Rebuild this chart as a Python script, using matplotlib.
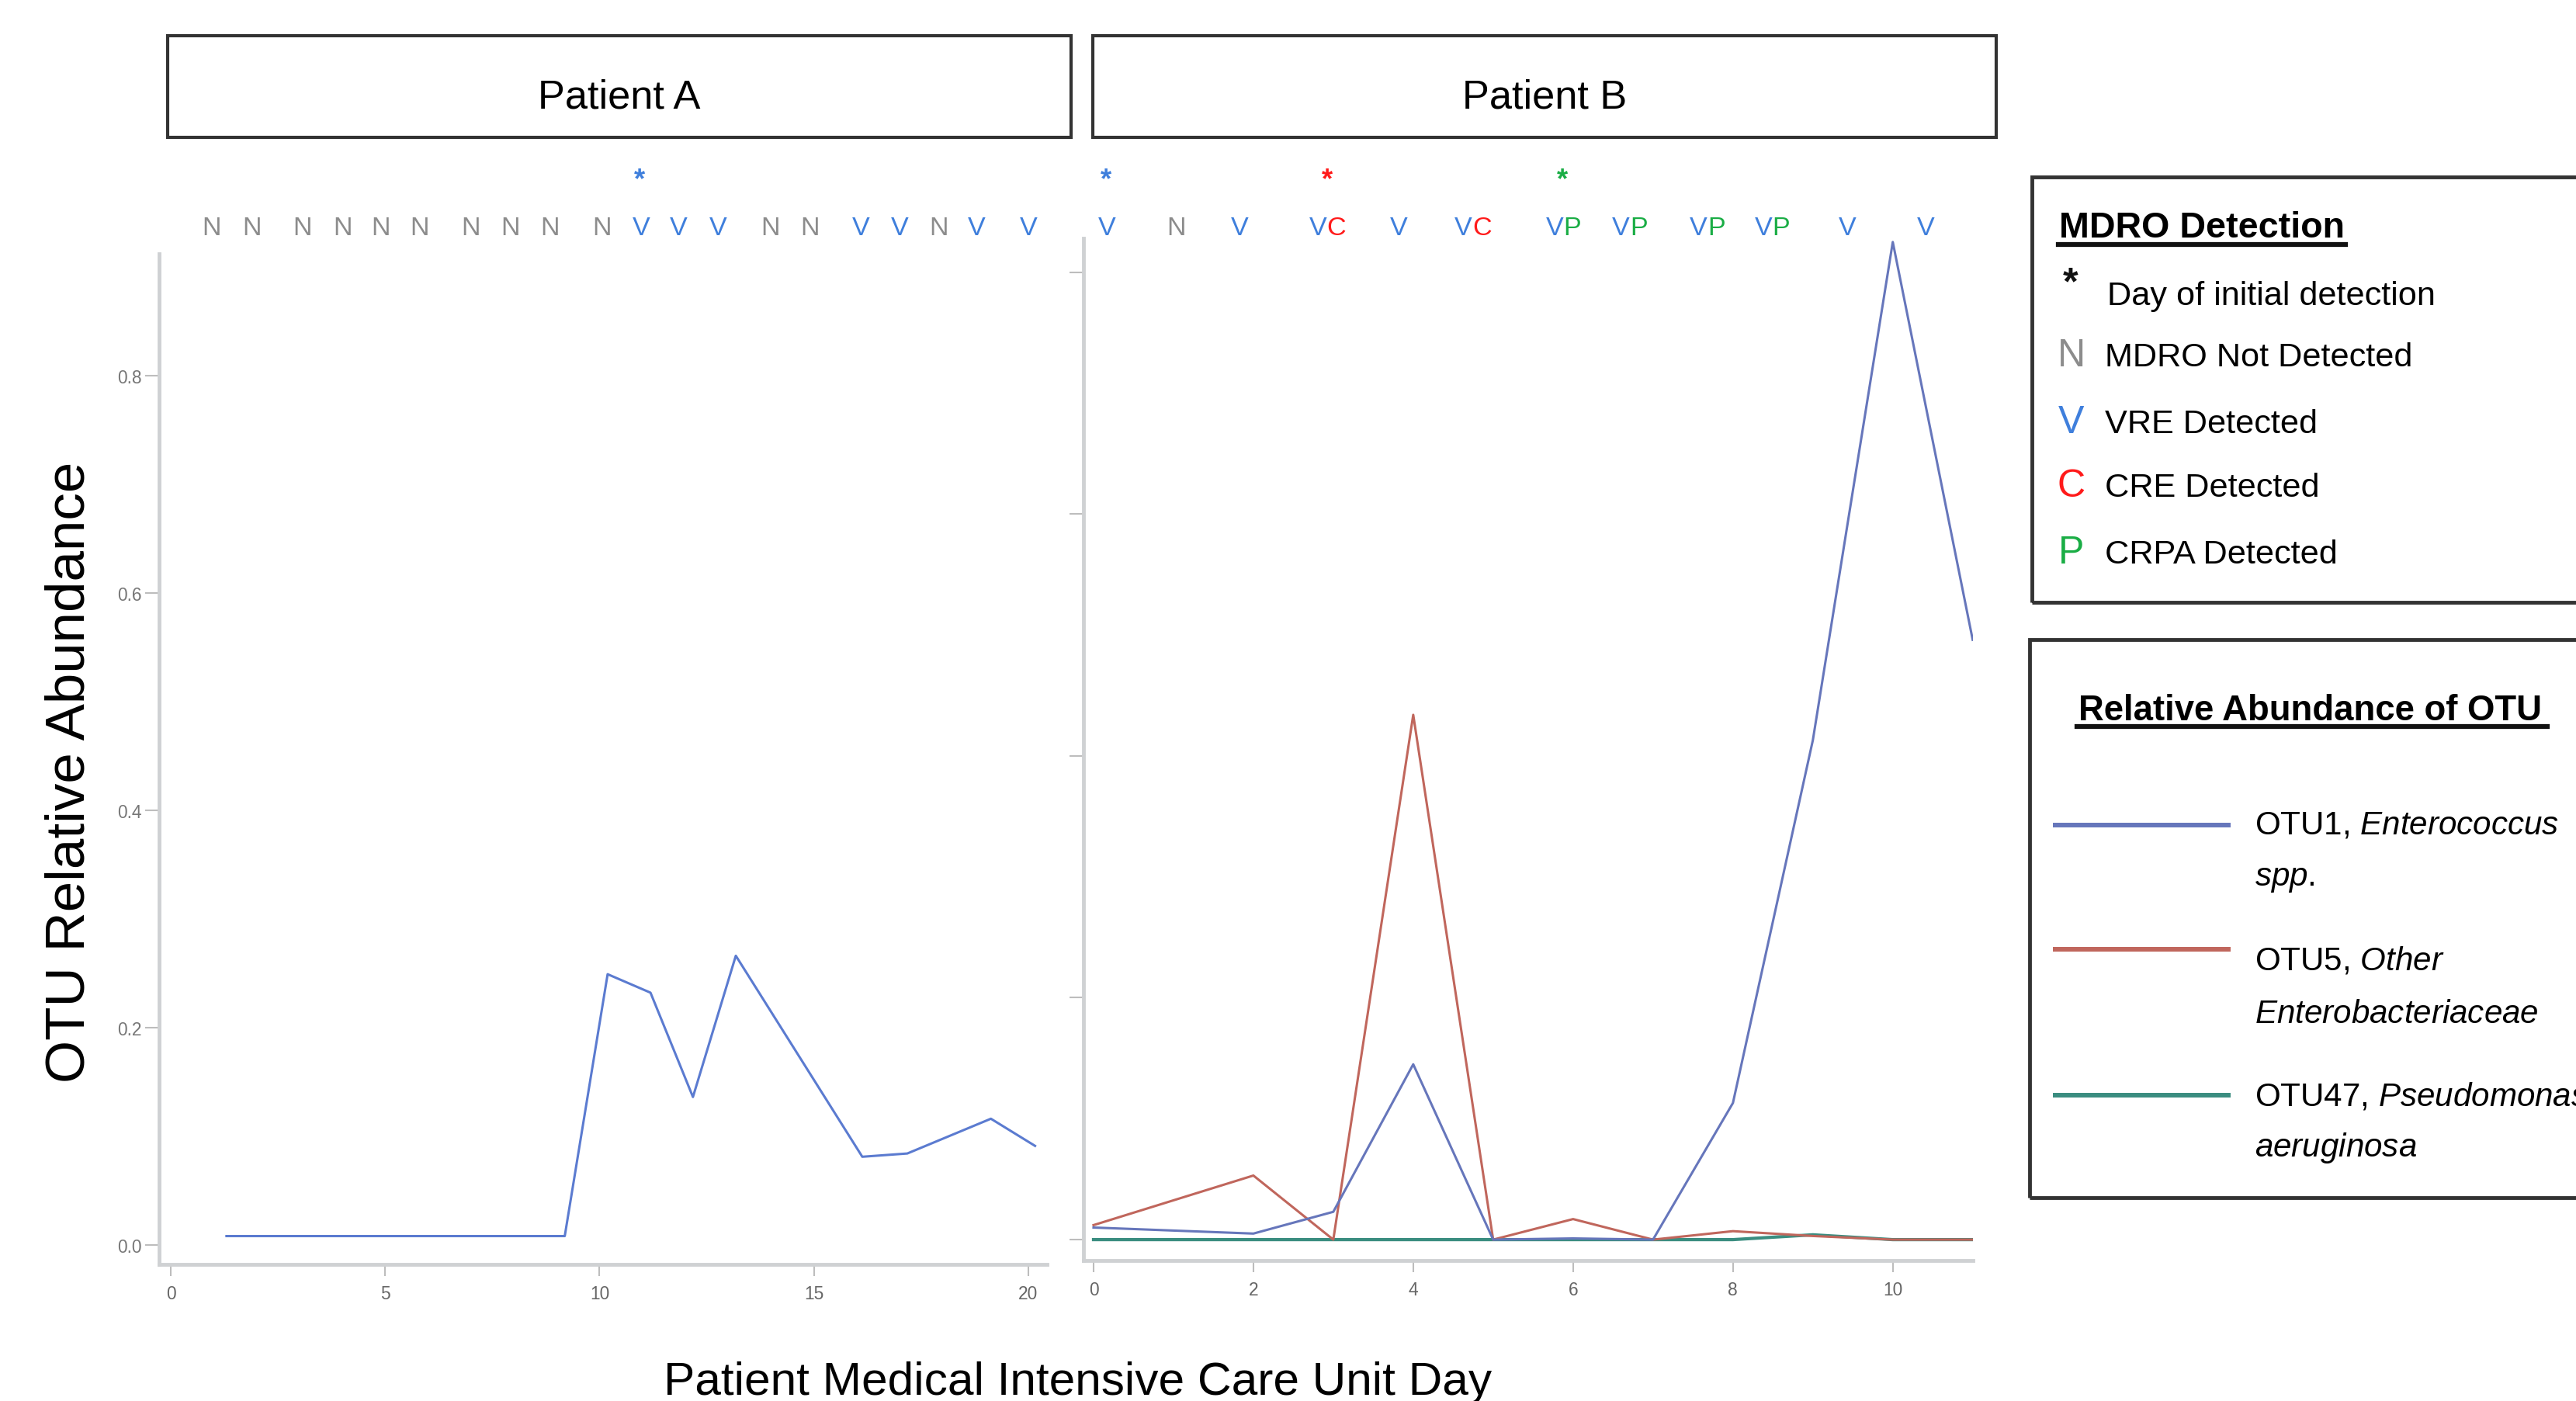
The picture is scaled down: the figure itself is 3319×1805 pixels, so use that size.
import matplotlib
matplotlib.use('Agg')
import matplotlib.pyplot as plt
from matplotlib import font_manager, transforms
from matplotlib.patches import Rectangle
from matplotlib.lines import Line2D

# condensed look of the original; fall back to regular Liberation Sans, scaled down
installed = {f.name for f in font_manager.fontManager.ttflist}
if 'Liberation Sans Narrow' in installed:
    NARROW, K = 'Liberation Sans Narrow', 1.0
else:
    NARROW, K = 'Liberation Sans', 0.82

plt.rcParams['font.family'] = [NARROW, 'DejaVu Sans']
plt.rcParams['mathtext.fontset'] = 'custom'
plt.rcParams['mathtext.rm'] = NARROW
plt.rcParams['mathtext.it'] = NARROW + ':italic'

# ---- data ----
# Patient A, OTU1 Enterococcus
a_days = [1.3, 9.19, 10.19, 11.19, 12.18, 13.18, 16.13, 17.18, 19.13, 20.16]
a_otu1 = [0.008, 0.008, 0.249, 0.232, 0.136, 0.266, 0.081, 0.084, 0.116, 0.091]

# Patient B
b_days = [0, 2, 3, 4, 5, 6, 7, 8, 9, 10, 11]
b_otu1 = [0.010, 0.005, 0.023, 0.145, 0.0, 0.001, 0.0, 0.113, 0.413, 0.825, 0.496]
b_otu5 = [0.012, 0.053, 0.0, 0.434, 0.0, 0.017, 0.0, 0.007, 0.003, 0.0, 0.0]
b_otu47 = [0.0, 0.0, 0.0, 0.0, 0.0, 0.0, 0.0, 0.0, 0.004, 0.0, 0.0]

# MDRO detection letters above each panel
a_mark_days = [0.95, 1.89, 3.07, 4.01, 4.90, 5.81, 7.0, 7.92, 8.84, 10.05,
               10.97, 11.85, 12.77, 13.99, 14.9, 16.1, 17.0, 17.92, 18.8, 20.0]
a_marks = ['N'] * 10 + ['V', 'V', 'V', 'N', 'N', 'V', 'V', 'N', 'V', 'V']
a_star_days = [10.93]
a_star_codes = ['V']

b_mark_days = [0.17, 1.03, 1.83, 2.92, 3.82, 4.74, 5.88, 6.71, 7.68, 8.49, 9.43, 10.41]
b_marks = ['V', 'N', 'V', 'VC', 'V', 'VC', 'VP', 'VP', 'VP', 'VP', 'V', 'V']
b_star_days = [0.16, 2.92, 5.87]
b_star_codes = ['V', 'C', 'P']

y_ticks = [0.0, 0.2, 0.4, 0.6, 0.8]
a_x_ticks = [0, 5, 10, 15, 20]
b_x_ticks = [0, 2, 4, 6, 8, 10]

mdro_codes = ['N', 'V', 'C', 'P']
mdro_labels = ['MDRO Not Detected', 'VRE Detected', 'CRE Detected', 'CRPA Detected']
otu_labels = [('OTU1, $\\mathit{Enterococcus}$', '$\\mathit{spp.}$'),
              ('OTU5, $\\mathit{Other}$', '$\\mathit{Enterobacteriaceae}$'),
              ('OTU47, $\\mathit{Pseudomonas}$', '$\\mathit{aeruginosa}$')]

MDRO_COLORS = {'N': '#8c8c8c', 'V': '#3f7fdc', 'C': '#ff1a1a', 'P': '#1aad45'}
C_OTU1 = '#6676bb'
C_OTU1_A = '#5b7bd0'
C_OTU5 = '#c0665c'
C_OTU47 = '#3a8d80'
SPINE = '#cfd1d3'
TICKC = '#bdbdbd'

fig = plt.figure(figsize=(33.19, 18.06), dpi=100)
fig.patch.set_facecolor('white')

ax_a = fig.add_axes([0.0618, 0.0975, 0.3445, 0.7209])
ax_b = fig.add_axes([0.4206, 0.1002, 0.3452, 0.7292])

ax_a.plot(a_days, a_otu1, color=C_OTU1_A, lw=2.2)
ax_b.plot(b_days, b_otu47, color=C_OTU47, lw=3.0)
ax_b.plot(b_days, b_otu5, color=C_OTU5, lw=2.2)
ax_b.plot(b_days, b_otu1, color=C_OTU1, lw=2.2)

ax_a.set_xlim(-0.27, 20.43)
ax_a.set_ylim(-0.018, 0.912)
ax_b.set_xlim(-0.126, 11.0)
ax_b.set_ylim(-0.0173, 0.828)

for ax, xt in ((ax_a, a_x_ticks), (ax_b, b_x_ticks)):
    for s in ('top', 'right'):
        ax.spines[s].set_visible(False)
    for s in ('left', 'bottom'):
        ax.spines[s].set_color(SPINE)
        ax.spines[s].set_linewidth(3.5)
    ax.set_xticks(xt)
    ax.set_yticks(y_ticks)
    ax.tick_params(axis='x', length=11, width=1.5, color=TICKC, pad=8,
                   labelsize=20 * K, labelcolor='#666666')
    ax.tick_params(axis='y', length=13, width=1.5, color=TICKC, pad=3,
                   labelsize=20 * K, labelcolor='#777777')

ax_a.set_yticklabels(['%.1f' % v for v in y_ticks])
ax_b.set_yticklabels([])

# letters above panels
MARK_Y = 0.8321
STAR_Y = 0.8776


def draw_marks(ax, days, codes, star_days, star_codes):
    tr = transforms.blended_transform_factory(ax.transData, fig.transFigure)
    fs = 30 * K
    for d, code in zip(days, codes):
        if len(code) == 1:
            ax.text(d, MARK_Y, code, transform=tr, ha='center', va='baseline',
                    color=MDRO_COLORS[code], fontsize=fs)
        else:
            ax.text(d, MARK_Y, code[0], transform=tr, ha='right', va='baseline',
                    color=MDRO_COLORS[code[0]], fontsize=fs)
            ax.text(d, MARK_Y, code[1], transform=tr, ha='left', va='baseline',
                    color=MDRO_COLORS[code[1]], fontsize=fs)
    sfs = 32 * K
    base = STAR_Y - 0.58 * sfs * 100 / 72 / 1806
    for d, code in zip(star_days, star_codes):
        ax.text(d, base, '*', transform=tr, ha='center', va='baseline',
                color=MDRO_COLORS[code], fontsize=sfs, fontweight='bold')


draw_marks(ax_a, a_mark_days, a_marks, a_star_days, a_star_codes)
draw_marks(ax_b, b_mark_days, b_marks, b_star_days, b_star_codes)

# facet strips
for x0, x1, name in ((0.0651, 0.4158, 'Patient A'), (0.4241, 0.7749, 'Patient B')):
    fig.add_artist(Rectangle((x0, 0.9015), x1 - x0, 0.9742 - 0.9015, transform=fig.transFigure,
                             fill=False, ec='#333333', lw=3))
    fig.text((x0 + x1) / 2, 0.9225, name, ha='center', va='baseline', fontsize=46 * K)

# axis titles
fig.text(0.4183, 0.005, 'Patient Medical Intensive Care Unit Day', ha='center', va='baseline',
         fontsize=53 * K)
fig.text(0.0274, 0.449, 'OTU Relative Abundance', rotation=90, ha='center', va='center',
         fontsize=51, family='Liberation Sans')

# MDRO legend box
fig.add_artist(Rectangle((0.7889, 0.5698), 0.3, 0.8732 - 0.5698, transform=fig.transFigure,
                         fill=False, ec='#333333', lw=3.5))
fig.text(0.7993, 0.8307, 'MDRO Detection', ha='left', va='baseline', fontsize=41 * K,
         fontweight='bold')
fig.add_artist(Line2D([0.7990, 0.9104], [0.8252, 0.8252], transform=fig.transFigure,
                      color='#111111', lw=4.5))
star_fs = 44 * K
fig.text(0.8036, 0.7824 + 0.28 * star_fs * 100 / 72 / 1806, '*', ha='center', va='baseline',
         fontsize=star_fs, fontweight='bold', color='#111111')
fig.text(0.8179, 0.7824, 'Day of initial detection', ha='left', va='baseline', fontsize=38 * K)
for code, label, yb in zip(mdro_codes, mdro_labels, [0.7388, 0.6913, 0.6458, 0.5980]):
    fig.text(0.8041, yb, code, ha='center', va='baseline', fontsize=44 * K,
             color=MDRO_COLORS[code])
    fig.text(0.8171, yb, label, ha='left', va='baseline', fontsize=38 * K)

# OTU legend box
fig.add_artist(Rectangle((0.7879, 0.1451), 0.3, 0.5432 - 0.1451, transform=fig.transFigure,
                         fill=False, ec='#333333', lw=3.5))
fig.text(0.8069, 0.4864, 'Relative Abundance of OTU', ha='left', va='baseline', fontsize=40 * K,
         fontweight='bold')
fig.add_artist(Line2D([0.8063, 0.9889], [0.4812, 0.4812], transform=fig.transFigure,
                      color='#111111', lw=4.5))
line_ys = [0.4106, 0.3220, 0.2182]
text_ys = [(0.4049, 0.3683), (0.3081, 0.2703), (0.2115, 0.1750)]
for color, ly, (l1, l2), (y1, y2) in zip([C_OTU1, C_OTU5, C_OTU47], line_ys, otu_labels, text_ys):
    fig.add_artist(Line2D([0.7978, 0.8650], [ly, ly], transform=fig.transFigure,
                          color=color, lw=4.3))
    fig.text(0.8753, y1, l1, ha='left', va='baseline', fontsize=37 * K)
    fig.text(0.8753, y2, l2, ha='left', va='baseline', fontsize=37 * K)

fig.savefig('out.png', dpi=100, facecolor='white')
